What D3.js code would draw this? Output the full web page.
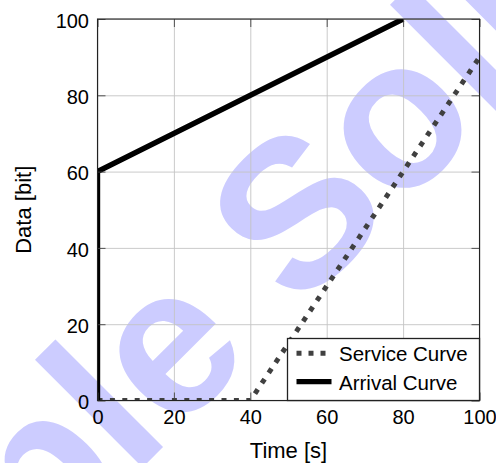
<!DOCTYPE html>
<html>
<head>
<meta charset="utf-8">
<script src="https://cdn.jsdelivr.net/npm/d3@7"></script>
<style>
  html, body { margin: 0; padding: 0; background: #fff; }
  svg { display: block; }
  text { font-family: "Liberation Sans", Arial, sans-serif; }
</style>
</head>
<body>
<svg id="chart" width="496" height="463"></svg>
<script>
// ---- data ----
const xTicks = [0, 20, 40, 60, 80, 100];
const yTicks = [0, 20, 40, 60, 80, 100];
const serviceX = [0, 40, 100];
const serviceY = [0, 0, 90];
const arrivalX = [0, 0, 80];
const arrivalY = [0, 60, 100];
const seriesNames = ["Service Curve", "Arrival Curve"];
const xLabel = "Time [s]";
const yLabel = "Data [bit]";
const watermark = "Sample Solution";

// ---- layout ----
const W = 496, H = 463;
const L = 97.5, R = 479.5, T = 19, B = 400.5;
const tickFs = 20, titleFs = 22, legendFs = 20.5;

const svg = d3.select("#chart");
const x = d3.scaleLinear().domain([0, 100]).range([L, R]);
const y = d3.scaleLinear().domain([0, 100]).range([B, T]);

// watermark (behind)
svg.append("text")
  .attr("transform", "translate(-272,882) rotate(-45)")
  .attr("font-size", 210)
  .attr("font-weight", "bold")
  .attr("fill", "#ccccff")
  .text(watermark);

// grid
const gGridX = svg.append("g").attr("transform", `translate(0,${B})`)
  .call(d3.axisBottom(x).tickValues(xTicks).tickSize(-(B - T)).tickFormat(""));
const gGridY = svg.append("g").attr("transform", `translate(${L},0)`)
  .call(d3.axisLeft(y).tickValues(yTicks).tickSize(-(R - L)).tickFormat(""));
[gGridX, gGridY].forEach(g => {
  g.select(".domain").remove();
  g.selectAll("line").attr("stroke", "#c4c4c4").attr("stroke-width", 0.9);
});

// clip
svg.append("clipPath").attr("id", "clip")
  .append("rect").attr("x", L).attr("y", T).attr("width", R - L).attr("height", B - T);

const line = d3.line().x(d => x(d[0])).y(d => y(d[1]));
const service = serviceX.map((v, i) => [v, serviceY[i]]);
const arrival = arrivalX.map((v, i) => [v, arrivalY[i]]);

const plot = svg.append("g").attr("clip-path", "url(#clip)");
plot.append("path").datum(service).attr("d", line)
  .attr("fill", "none").attr("stroke", "#404040").attr("stroke-width", 5)
  .attr("stroke-dasharray", "5 7.4");
plot.append("path").datum(arrival).attr("d", line)
  .attr("fill", "none").attr("stroke", "#000").attr("stroke-width", 5.4)
  .attr("stroke-linejoin", "miter");

// tick marks (inward, four sides) and labels
const gx = svg.append("g").attr("transform", `translate(0,${B})`)
  .call(d3.axisBottom(x).tickValues(xTicks).tickSize(-8).tickPadding(0));
gx.selectAll("text").attr("y", 0).attr("dy", 23.5).attr("font-size", tickFs).attr("fill", "#000");
const gy = svg.append("g").attr("transform", `translate(${L},0)`)
  .call(d3.axisLeft(y).tickValues(yTicks).tickSize(-8).tickPadding(0));
gy.selectAll("text").attr("x", -8.5).attr("dy", 8.3).attr("font-size", tickFs).attr("fill", "#000");
const gt = svg.append("g").attr("transform", `translate(0,${T})`)
  .call(d3.axisTop(x).tickValues(xTicks).tickSize(-8).tickFormat(""));
const gr = svg.append("g").attr("transform", `translate(${R},0)`)
  .call(d3.axisRight(y).tickValues(yTicks).tickSize(-8).tickFormat(""));
[gx, gy, gt, gr].forEach(g => {
  g.select(".domain").remove();
  g.selectAll("line").attr("stroke", "#444").attr("stroke-width", 0.9);
  g.attr("font-family", null).attr("font-size", null);
});

// frame
svg.append("rect").attr("x", L).attr("y", T).attr("width", R - L).attr("height", B - T)
  .attr("fill", "none").attr("stroke", "#222").attr("stroke-width", 1.1);

// legend
const lg = svg.append("g");
lg.append("rect").attr("x", 287.5).attr("y", 338.5).attr("width", R - 287.5).attr("height", B - 338.5)
  .attr("fill", "#fff").attr("stroke", "#222").attr("stroke-width", 1.3);
const rows = [
  { name: seriesNames[0], y: 353.3, stroke: "#404040", dash: "5 7", w: 5 },
  { name: seriesNames[1], y: 381.7, stroke: "#000", dash: null, w: 5.2 }
];
rows.forEach(r => {
  lg.append("line").attr("x1", 296.5).attr("x2", 331.5).attr("y1", r.y).attr("y2", r.y)
    .attr("stroke", r.stroke).attr("stroke-width", r.w)
    .attr("stroke-dasharray", r.dash);
  lg.append("text").attr("x", 339).attr("y", r.y + 7.8).attr("font-size", legendFs).text(r.name);
});

// axis titles
svg.append("text").attr("x", (L + R) / 2).attr("y", 457.5).attr("text-anchor", "middle")
  .attr("font-size", titleFs).text(xLabel);
svg.append("text").attr("transform", `translate(30.5,${(T + B) / 2}) rotate(-90)`)
  .attr("text-anchor", "middle").attr("font-size", titleFs).text(yLabel);
</script>
</body>
</html>
